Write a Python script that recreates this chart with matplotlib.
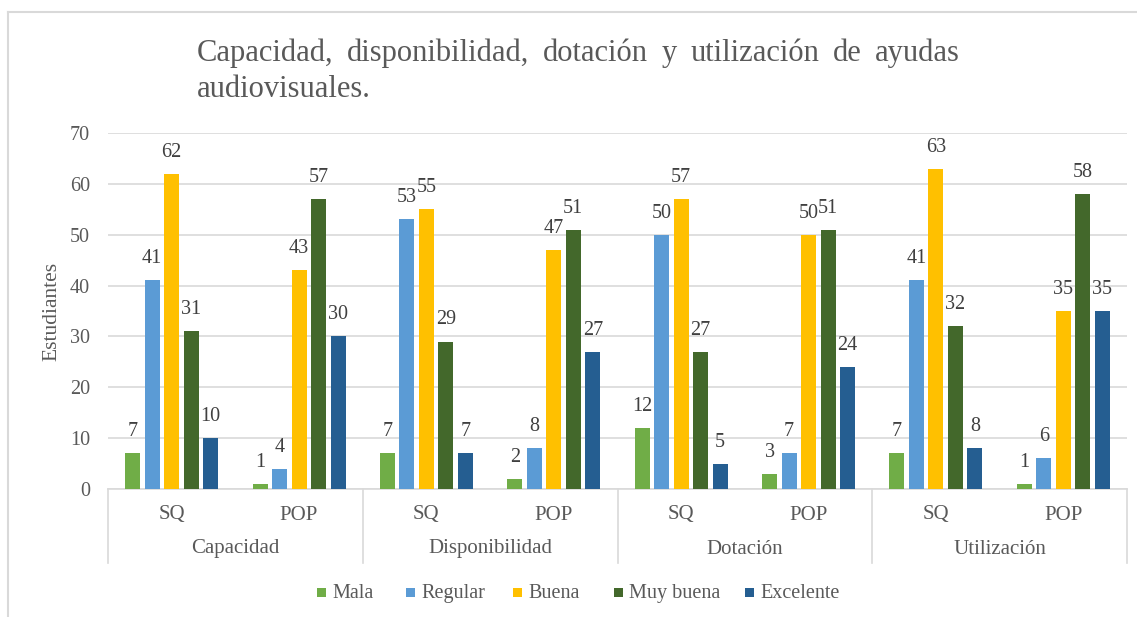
import matplotlib
matplotlib.use("Agg")
import matplotlib.pyplot as plt
from matplotlib.patches import Rectangle
from matplotlib.lines import Line2D
import numpy as np

plt.rcParams['font.family'] = ['Liberation Serif', 'DejaVu Serif']

groups = ["Capacidad", "Disponibilidad", "Dotación", "Utilización"]
subcats = ["SQ", "POP"]
series = ["Mala", "Regular", "Buena", "Muy buena", "Excelente"]
colors = ["#70AD47", "#5B9BD5", "#FFC000", "#43682B", "#255E91"]

mala = [7, 1, 7, 2, 12, 3, 7, 1]
regular = [41, 4, 53, 8, 50, 7, 41, 6]
buena = [62, 43, 55, 47, 57, 50, 63, 35]
muy_buena = [31, 57, 29, 51, 27, 51, 32, 58]
excelente = [10, 30, 7, 27, 5, 24, 8, 35]
values = [mala, regular, buena, muy_buena, excelente]

yticks = [0, 10, 20, 30, 40, 50, 60, 70]
title_line1 = "Capacidad, disponibilidad, dotación y utilización de ayudas"
title_line2 = "audiovisuales."
ylabel = "Estudiantes"

TXT = "#595959"
GRID = "#D9D9D9"

W, H = 1137, 617
fig = plt.figure(figsize=(W / 100, H / 100), dpi=100)
ax = fig.add_axes([108 / W, 1 - 489 / H, (1127 - 108) / W, (489 - 133) / H])

n_cat = len(mala)
x = np.arange(n_cat) + 0.5
slot = 0.153
bw = 0.118
for i, (s, c, v) in enumerate(zip(series, colors, values)):
    xs = x + (i - 2) * slot
    ax.bar(xs, v, width=bw, color=c, label=s, zorder=3)
    for xi, vi in zip(xs, v):
        ax.annotate(str(vi), (xi, vi), xytext=(0, 15.5), textcoords="offset points",
                    ha="center", va="center", fontsize=14.5, color="#404040", zorder=4)

ax.set_xlim(0, n_cat)
ax.set_ylim(0, 70)
ax.set_yticks(yticks)
ax.tick_params(axis="y", length=0, pad=13, labelsize=14.5, labelcolor=TXT)
ax.set_xticks([])
ax.yaxis.grid(True, color=GRID, linewidth=1.2, zorder=0)
for sp in ["top", "right", "left"]:
    ax.spines[sp].set_visible(False)
ax.spines["bottom"].set_color(GRID)
ax.spines["bottom"].set_linewidth(1.2)

ax.set_ylabel(ylabel, fontsize=15.5, color=TXT)
ax.yaxis.set_label_coords(-47 / (1127 - 108), 0.5)

# category axis
trans = ax.get_xaxis_transform()
ah = 489 - 133
for b in range(0, n_cat + 1, 2):
    ax.add_line(Line2D([b, b], [0, -(563 - 489) / ah], transform=trans,
                       color=GRID, linewidth=1.2, clip_on=False))
for i in range(n_cat):
    ax.text(x[i], -(515 - 489) / ah, subcats[i % 2], transform=trans,
            ha="center", va="center", fontsize=15, color=TXT)
for g, name in enumerate(groups):
    ax.text(2 * g + 1, -(549 - 489) / ah, name, transform=trans,
            ha="center", va="center", fontsize=15, color=TXT)

# justified title (line 1 spans 197..960 px)
fig.canvas.draw()
renderer = fig.canvas.get_renderer()
words = title_line1.split(" ")
tsize = 22
wtexts = [fig.text(0, 1 - 61 / H, w, ha="left", va="baseline", fontsize=tsize, color=TXT)
          for w in words]
widths = [t.get_window_extent(renderer).width for t in wtexts]
gap = (960 - 197 - sum(widths)) / (len(words) - 1)
xpos = 197
for t, wd in zip(wtexts, widths):
    t.set_x(xpos / W)
    xpos += wd + gap
fig.text(197 / W, 1 - 97 / H, title_line2, ha="left", va="baseline",
         fontsize=tsize, color=TXT)

# legend (manual, Excel-like layout)
leg_x = [317, 406, 513, 614, 745]
msz = 9
for lx, s, c in zip(leg_x, series, colors):
    fig.add_artist(Rectangle((lx / W, 1 - (592 + msz / 2) / H), msz / W, msz / H,
                             transform=fig.transFigure, facecolor=c, edgecolor="none"))
    fig.text((lx + 15) / W, 1 - 598 / H, s, ha="left", va="baseline",
             fontsize=14.5, color=TXT)

# chart frame
fig.add_artist(Line2D([8 / W, 8 / W], [0, 1 - 12 / H], transform=fig.transFigure,
                      color=GRID, linewidth=1.5))
fig.add_artist(Line2D([8 / W, 1], [1 - 12 / H, 1 - 12 / H], transform=fig.transFigure,
                      color=GRID, linewidth=1.5))

fig.savefig("out.png", dpi=100, facecolor="white")
